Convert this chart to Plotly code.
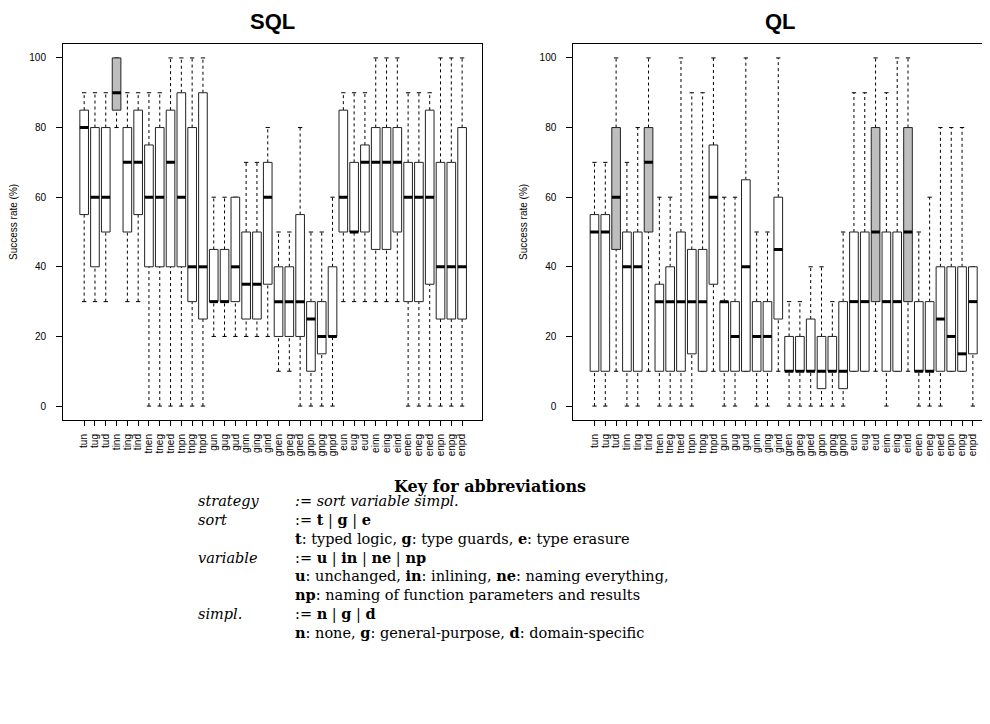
import plotly.graph_objects as go

# page is shown with the default 8px body margin, so lay out in page pixels and shift
OFF = 8
W, H = 990 - OFF, 724 - OFF

cats = ["tun", "tug", "tud", "tinn", "ting", "tind", "tnen", "tneg", "tned", "tnpn", "tnpg", "tnpd",
        "gun", "gug", "gud", "ginn", "ging", "gind", "gnen", "gneg", "gned", "gnpn", "gnpg", "gnpd",
        "eun", "eug", "eud", "einn", "eing", "eind", "enen", "eneg", "ened", "enpn", "enpg", "enpd"]

# SQL panel: lower whisker, Q1, median, Q3, upper whisker (success rate, %)
sql_lo = [30, 30, 30, 80, 30, 30, 0, 0, 0, 0, 0, 0, 20, 20, 20, 20, 20, 20, 10, 10, 0, 0, 0, 0,
          30, 30, 30, 30, 30, 30, 0, 0, 0, 0, 0, 0]
sql_q1 = [55, 40, 50, 85, 50, 55, 40, 40, 40, 40, 30, 25, 30, 30, 30, 25, 25, 35, 20, 20, 20, 10, 15, 20,
          50, 50, 50, 45, 45, 50, 30, 30, 35, 25, 25, 25]
sql_med = [80, 60, 60, 90, 70, 70, 60, 60, 70, 60, 40, 40, 30, 30, 40, 35, 35, 60, 30, 30, 30, 25, 20, 20,
           60, 50, 70, 70, 70, 70, 60, 60, 60, 40, 40, 40]
sql_q3 = [85, 80, 80, 100, 80, 85, 75, 80, 85, 90, 80, 90, 45, 45, 60, 50, 50, 70, 40, 40, 55, 30, 30, 40,
          85, 70, 75, 80, 80, 80, 70, 70, 85, 70, 70, 80]
sql_hi = [90, 90, 90, 100, 90, 90, 90, 90, 100, 100, 100, 100, 60, 60, 60, 70, 70, 80, 50, 50, 80, 50, 50, 60,
          90, 90, 90, 100, 100, 100, 90, 90, 90, 100, 100, 100]
sql_gray = ["tinn"]

# QL panel
ql_lo = [0, 0, 10, 0, 0, 10, 0, 0, 0, 0, 10, 10, 0, 0, 10, 0, 0, 10, 0, 0, 0, 0, 0, 0,
         10, 10, 10, 0, 10, 10, 0, 0, 0, 10, 10, 0]
ql_q1 = [10, 10, 45, 10, 10, 50, 10, 10, 10, 15, 10, 35, 10, 10, 10, 10, 10, 25, 10, 10, 10, 5, 10, 5,
         10, 10, 30, 10, 10, 30, 10, 10, 10, 10, 10, 15]
ql_med = [50, 50, 60, 40, 40, 70, 30, 30, 30, 30, 30, 60, 30, 20, 40, 20, 20, 45, 10, 10, 10, 10, 10, 10,
          30, 30, 50, 30, 30, 50, 10, 10, 25, 20, 15, 30]
ql_q3 = [55, 55, 80, 50, 50, 80, 35, 40, 50, 45, 45, 75, 30, 30, 65, 30, 30, 60, 20, 20, 25, 20, 20, 30,
         50, 50, 80, 50, 50, 80, 30, 30, 40, 40, 40, 40]
ql_hi = [70, 70, 100, 70, 80, 100, 60, 60, 100, 90, 90, 100, 60, 60, 100, 50, 50, 100, 30, 30, 40, 40, 30, 50,
         90, 90, 100, 90, 100, 100, 50, 60, 80, 80, 80, 40]
ql_gray = ["tud", "tind", "eud", "eind"]

yticks = [0, 20, 40, 60, 80, 100]

key_labels = ["<i>strategy</i>", "<i>sort</i>", "", "<i>variable</i>", "", "", "<i>simpl.</i>", ""]
key_values = [
    "<i>:= sort variable simpl.</i>",
    ":= <b>t</b> | <b>g</b> | <b>e</b>",
    "<b>t</b>: typed logic, <b>g</b>: type guards, <b>e</b>: type erasure",
    ":= <b>u</b> | <b>in</b> | <b>ne</b> | <b>np</b>",
    "<b>u</b>: unchanged, <b>in</b>: inlining, <b>ne</b>: naming everything,",
    "<b>np</b>: naming of function parameters and results",
    ":= <b>n</b> | <b>g</b> | <b>d</b>",
    "<b>n</b>: none, <b>g</b>: general-purpose, <b>d</b>: domain-specific",
]


def fx(p):
    return (p - OFF) / W


def fy(p):
    return 1 - (p - OFF) / H


fig = go.Figure()


def add_panel(lo, q1, med, q3, hi, gray, xa, ya):
    xs = list(range(len(cats)))
    common = dict(xaxis=xa, yaxis=ya, hoverinfo="skip", showlegend=False)
    # dashed whiskers
    wx, wy = [], []
    for i in xs:
        if hi[i] > q3[i]:
            wx += [i, i, None]
            wy += [q3[i], hi[i], None]
        if lo[i] < q1[i]:
            wx += [i, i, None]
            wy += [lo[i], q1[i], None]
    fig.add_trace(go.Scatter(x=wx, y=wy, mode="lines",
                             line=dict(color="black", width=1, dash="3px,3px"), **common))
    # staples
    sx, sy = [], []
    for i in xs:
        for v in (lo[i], hi[i]):
            sx += [i - 0.2, i + 0.2, None]
            sy += [v, v, None]
    fig.add_trace(go.Scatter(x=sx, y=sy, mode="lines",
                             line=dict(color="black", width=1), **common))
    # boxes
    for fill, sel in (("white", False), ("#bebebe", True)):
        bx, by = [], []
        for i in xs:
            if (cats[i] in gray) != sel:
                continue
            bx += [i - 0.4, i + 0.4, i + 0.4, i - 0.4, i - 0.4, None]
            by += [q1[i], q1[i], q3[i], q3[i], q1[i], None]
        if bx:
            fig.add_trace(go.Scatter(x=bx, y=by, mode="lines", fill="toself", fillcolor=fill,
                                     line=dict(color="#222222", width=1), **common))
    # medians
    mx, my = [], []
    for i in xs:
        mx += [i - 0.4, i + 0.4, None]
        my += [med[i], med[i], None]
    fig.add_trace(go.Scatter(x=mx, y=my, mode="lines",
                             line=dict(color="black", width=3), **common))


add_panel(sql_lo, sql_q1, sql_med, sql_q3, sql_hi, sql_gray, "x", "y")
add_panel(ql_lo, ql_q1, ql_med, ql_q3, ql_hi, ql_gray, "x2", "y2")

ydom = [fy(420), fy(44)]
tickfont = dict(family="Liberation Sans, Arial, sans-serif", size=10, color="black")

xcommon = dict(tickmode="array", tickvals=list(range(len(cats))), ticktext=cats, tickangle=-90,
               ticks="outside", ticklen=5, tickcolor="black", showline=True, mirror=True,
               linecolor="black", linewidth=1, showgrid=False, zeroline=False, tickfont=tickfont,
               ticklabelstandoff=4)
ycommon = dict(range=[-4, 104], tickmode="array", tickvals=yticks, ticks="outside", ticklen=6,
               tickcolor="black", showline=True, mirror=True, linecolor="black", linewidth=1,
               showgrid=False, zeroline=False, tickfont=tickfont, domain=ydom, ticklabelstandoff=8)

fig.update_layout(
    width=W, height=H, autosize=False,
    margin=dict(l=0, r=0, t=0, b=0),
    paper_bgcolor="white", plot_bgcolor="white",
    xaxis=dict(domain=[fx(63), fx(482.3)], range=[-1.96, 36.87], anchor="y", **xcommon),
    yaxis=dict(anchor="x", **ycommon),
    xaxis2=dict(domain=[fx(573.3), fx(988)], range=[-1.96, 36.4], anchor="y2", **xcommon),
    yaxis2=dict(anchor="x2", **ycommon),
)

ann = []
title_font = dict(family="Liberation Sans, Arial, sans-serif", size=22, color="black")
ann.append(dict(text="<b>SQL</b>", x=fx(272.5), y=fy(21), xref="paper", yref="paper",
                showarrow=False, xanchor="center", yanchor="middle", font=title_font))
ann.append(dict(text="<b>QL</b>", x=fx(780.5), y=fy(21), xref="paper", yref="paper",
                showarrow=False, xanchor="center", yanchor="middle", font=title_font))
for xp in (13, 523):
    ann.append(dict(text="Success rate (%)", x=fx(xp), y=fy(222), xref="paper", yref="paper",
                    showarrow=False, textangle=-90, xanchor="center", yanchor="middle",
                    font=dict(family="Liberation Sans, Arial, sans-serif", size=10, color="black")))

key_font = dict(family="DejaVu Serif, serif", size=14.5, color="black")
head_font = dict(family="DejaVu Serif, serif", size=16, color="black")
ann.append(dict(text="<b>Key for abbreviations</b>", x=fx(490), y=fy(486), xref="paper", yref="paper",
                showarrow=False, xanchor="center", yanchor="middle", font=head_font))
block_mid = fy(567)
ann.append(dict(text="<br>".join(t if t else "\u00a0" for t in key_labels), x=fx(196), y=block_mid,
                xref="paper", yref="paper", showarrow=False, xanchor="left", yanchor="middle",
                align="left", font=key_font))
ann.append(dict(text="<br>".join(key_values), x=fx(293), y=block_mid,
                xref="paper", yref="paper", showarrow=False, xanchor="left", yanchor="middle",
                align="left", font=key_font))

fig.update_layout(annotations=ann)
fig.write_html("out.html")
